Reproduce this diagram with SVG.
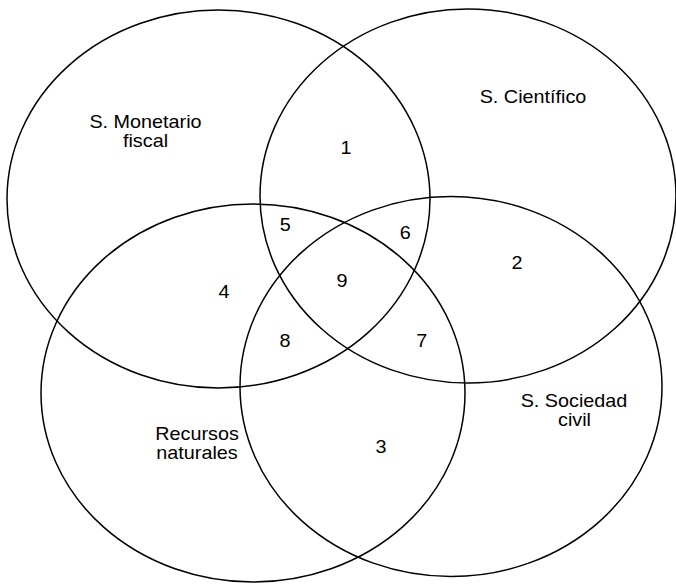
<svg xmlns="http://www.w3.org/2000/svg" width="676" height="585" viewBox="0 0 676 585">
<style>
.c{fill:none;stroke:#000;stroke-width:1.5}
text{font-family:"Liberation Sans",Arial,sans-serif;font-size:18px;fill:#000;text-anchor:middle}
</style>
<rect width="676" height="585" fill="#fff"/>
<g id="monetario"><ellipse class="c" cx="218.5" cy="199" rx="211.5" ry="189"/><text transform="translate(145.5,128) scale(1.1,1)">S. Monetario</text><text transform="translate(145.5,147) scale(1.1,1)">fiscal</text></g>
<g id="cientifico"><ellipse class="c" cx="468" cy="196" rx="208" ry="187"/><text transform="translate(533,103) scale(1.1,1)">S. Científico</text></g>
<g id="recursos"><ellipse class="c" cx="253" cy="393" rx="212" ry="189"/><text transform="translate(197,440) scale(1.1,1)">Recursos</text><text transform="translate(197,458.5) scale(1.1,1)">naturales</text></g>
<g id="sociedad"><ellipse class="c" cx="451" cy="386.5" rx="211" ry="190"/><text transform="translate(574,406.5) scale(1.1,1)">S. Sociedad</text><text transform="translate(574.5,425.5) scale(1.1,1)">civil</text></g>
<g id="regions">
<text transform="translate(346,154) scale(1.1,1)">1</text>
<text transform="translate(517,269) scale(1.1,1)">2</text>
<text transform="translate(381,453) scale(1.1,1)">3</text>
<text transform="translate(224,298) scale(1.1,1)">4</text>
<text transform="translate(285.3,230.7) scale(1.1,1)">5</text>
<text transform="translate(405.3,239) scale(1.1,1)">6</text>
<text transform="translate(421.7,346.7) scale(1.1,1)">7</text>
<text transform="translate(285,346.7) scale(1.1,1)">8</text>
<text transform="translate(342,287.3) scale(1.1,1)">9</text>
</g>
</svg>
